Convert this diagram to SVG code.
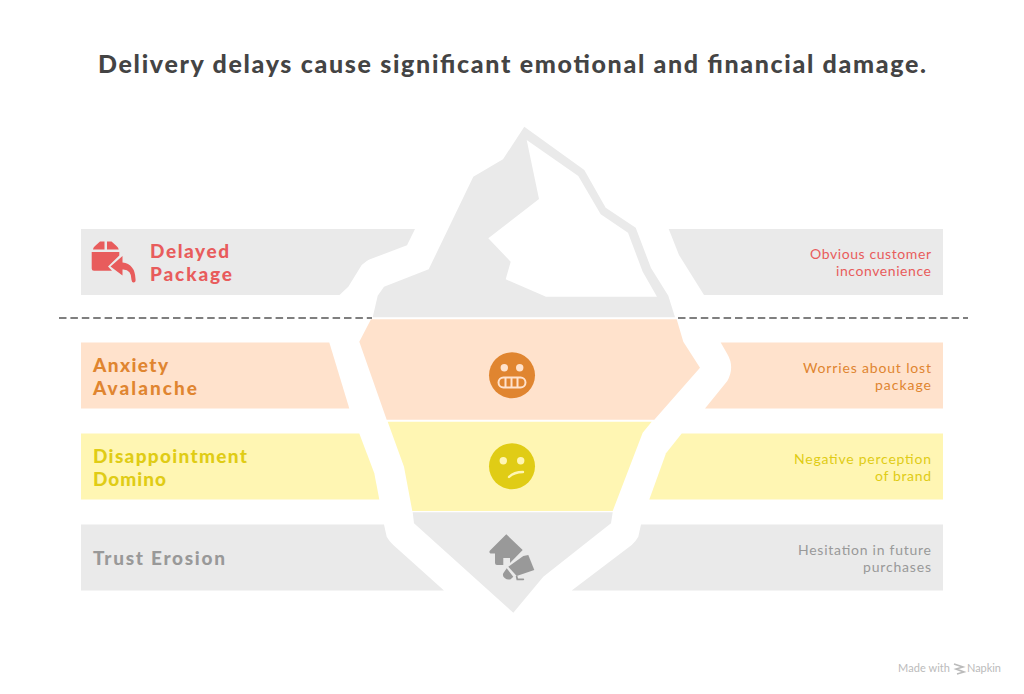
<svg xmlns="http://www.w3.org/2000/svg" width="1024" height="694" viewBox="0 0 1024 694">
<style>
text{font-family:"Lato","Noto Sans",sans-serif}
.t{font-weight:900;font-size:19px}
.d{font-size:14px}
.g{fill:#EAEAEA}.o{fill:#FFE2CC}.y{fill:#FFF6B3}
.r1{fill:#E85C5C}.o1{fill:#E08530}.y1{fill:#E0CC15}.g1{fill:#999999}
</style>
<rect width="1024" height="694" fill="#FFFFFF"/>
<text x="98" y="73" font-size="25" font-weight="900" fill="#444444" textLength="828" lengthAdjust="spacing">Delivery delays cause significant emotional and financial damage.</text>

<g id="connectors">
<path d="M59 318H372M678 318H968" fill="none" stroke="#555555" stroke-width="1.6" stroke-dasharray="7.5 3.9"/>
</g>

<g id="iceberg-tip">
<path class="g" d="M524.3 126.7L584.3 170L605.7 207.7L635.7 227.7L651 268L668.3 295.7L675 317.3H372.7L377.7 295.7L384 286.7L428.7 269.3L473.3 176.7L503 159.3Z"/>
<path fill="#FFFFFF" d="M526.7 140L578.3 176L600.7 214.3L628 232.7L642.7 271.7L657 296.7H546L505.7 279.3L510.7 261.7L488.3 238.3L539 199Z"/>
</g>

<g id="delayed-package">
<path class="g" d="M81 229H415L407 245.3L370 259.3Q367 260.5 361.7 265L348.3 286.7L339.5 295H81Z"/>
<path class="g" d="M668.7 229H943V295H704L679 255Z"/>
<g class="r1">
<path d="M93 249.5Q93 247.5 95 246L100 241.5H104.5V249.5ZM107 241.5H111.5L116.5 246Q118.5 247.5 118.7 249.5H107Z"/>
<path d="M91.7 252H119.3V255.5L108 266.5L112 270.7H94Q91.7 270.7 91.7 268.4Z"/>
<path d="M122.5 256L110.5 266.5L122.5 275.5V269.5Q131.5 269 131.5 280Q132 283 134 282.5Q136 282 135.5 279Q135 264 122.5 262.5Z"/>
</g>
<text class="t r1" x="150" y="258" textLength="79" lengthAdjust="spacing">Delayed</text>
<text class="t r1" x="150" y="281" textLength="82" lengthAdjust="spacing">Package</text>
<text class="d r1" x="810" y="259" textLength="121" lengthAdjust="spacing">Obvious customer</text>
<text class="d r1" x="836" y="276" textLength="95" lengthAdjust="spacing">inconvenience</text>
</g>

<g id="anxiety-avalanche">
<path class="o" d="M81 342.5H329.3L349.3 408.5H81Z"/>
<path class="o" d="M371 319.3H676.7L683.3 341.7L700 367.7L654.3 419.7H386.7L359.3 341.7Z"/>
<path class="o" d="M720.7 342.5H943V408.5H705L727.3 381Q735 367 727.3 354Z"/>
<circle class="o1" cx="512" cy="375.3" r="23"/>
<circle class="o" cx="504.3" cy="367.7" r="3.7"/>
<circle class="o" cx="519.7" cy="367.7" r="3.7"/>
<rect x="498.5" y="377.5" width="27" height="10" rx="5" fill="#E08530" stroke="#FFE2CC" stroke-width="2"/>
<path d="M505.5 378V387M511.5 378V387M517.5 378V387" stroke="#FFE2CC" stroke-width="2" fill="none"/>
<text class="t o1" x="93" y="372" textLength="75" lengthAdjust="spacing">Anxiety</text>
<text class="t o1" x="93" y="395" textLength="104" lengthAdjust="spacing">Avalanche</text>
<text class="d o1" x="803" y="373" textLength="128" lengthAdjust="spacing">Worries about lost</text>
<text class="d o1" x="875" y="390" textLength="56" lengthAdjust="spacing">package</text>
</g>

<g id="disappointment-domino">
<path class="y" d="M81 433.5H359.3L374.3 473.3L379.3 499.5H81Z"/>
<path class="y" d="M387.7 421.7H651.7L642.7 432.7L612.7 511H412.3L404 466.7Z"/>
<path class="y" d="M681.7 433.5H943V499.5H649.3L666 453.3Z"/>
<circle class="y1" cx="512" cy="466.3" r="23"/>
<circle class="y" cx="503.3" cy="460.7" r="3.7"/>
<circle class="y" cx="520.7" cy="460.7" r="3.7"/>
<path d="M509 477Q514 472 523 472" fill="none" stroke="#FFF6B3" stroke-width="2.4" stroke-linecap="round"/>
<text class="t y1" x="93" y="463" textLength="154" lengthAdjust="spacing">Disappointment</text>
<text class="t y1" x="93" y="486" textLength="73" lengthAdjust="spacing">Domino</text>
<text class="d y1" x="794" y="464" textLength="137" lengthAdjust="spacing">Negative perception</text>
<text class="d y1" x="875" y="481" textLength="56" lengthAdjust="spacing">of brand</text>
</g>

<g id="trust-erosion">
<path class="g" d="M81 524.5H384L386.7 536.7Q389 541 393.3 545L444 590.5H81Z"/>
<path class="g" d="M412.7 512.3H612.7L611 523.3L543.3 576.7L513.3 612.7L414 523.3Z"/>
<path class="g" d="M641 524.5H943V590.5H571.7L631.7 545Q636 541 638.3 536.7Z"/>
<g class="g1">
<path d="M506.3 534.3L522.7 550L510 563V558H503.3V565H497Q495 565 495 563V553.5H490.5Q488.5 552.5 490 550.5Z"/>
<path d="M523.3 556L528.3 555L534.3 570L516.7 576L508.3 566.7Z"/>
<path d="M506.7 568.3L513.3 576.7L510.7 579.3Q507 580 505 578.3Q502 576 503.3 573.3Z"/>
<path d="M516.7 576.7L517.3 579.3H523.3" fill="none" stroke="#999999" stroke-width="1.8" stroke-linecap="round"/>
</g>
<text class="t g1" x="93" y="565" textLength="132" lengthAdjust="spacing">Trust Erosion</text>
<text class="d g1" x="798" y="555" textLength="133" lengthAdjust="spacing">Hesitation in future</text>
<text class="d g1" x="863" y="572" textLength="68" lengthAdjust="spacing">purchases</text>
</g>

<g id="watermark">
<text x="898" y="672" font-size="11" fill="#BBBBBB" textLength="52" lengthAdjust="spacing">Made with</text>
<path d="M954 664L963 667L956 669L964 672L957 674" fill="none" stroke="#BBBBBB" stroke-width="1.6"/>
<text x="967" y="672" font-size="11" fill="#BBBBBB" textLength="34" lengthAdjust="spacing">Napkin</text>
</g>
</svg>
